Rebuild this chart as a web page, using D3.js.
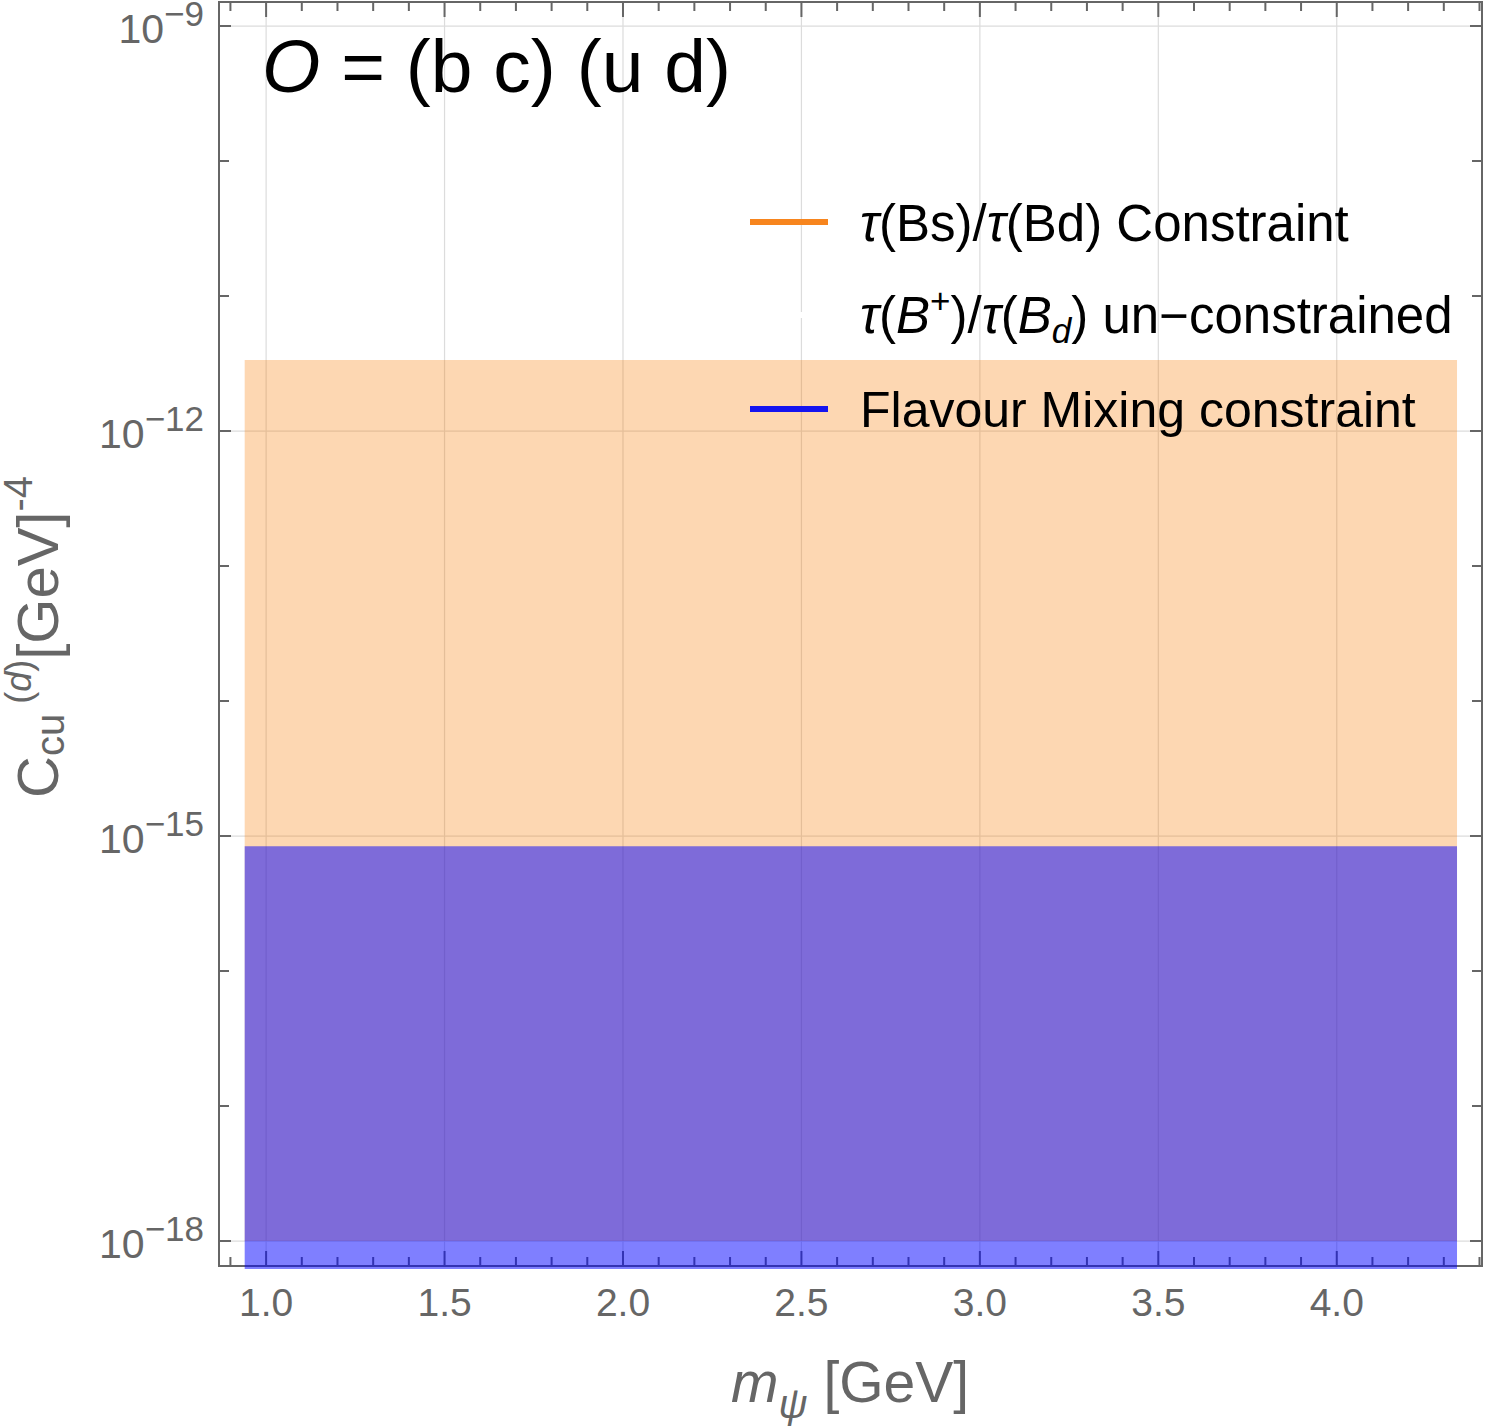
<!DOCTYPE html>
<html>
<head>
<meta charset="utf-8">
<script src="https://cdn.jsdelivr.net/npm/d3@7/dist/d3.min.js"></script>
<style>
  body { margin: 0; background: #fff; }
  text { font-family: 'Liberation Sans', Arial, sans-serif; }
</style>
</head>
<body>
<div id="chart"></div>
<script>
// m_psi extent of the bands [GeV]
const massRange = [0.94, 4.337]
// tau(Bs)/tau(Bd) allowed band
const tauLower = [1e-18, 1e-18]
const tauUpper = [3.36e-12, 3.36e-12]
// flavour mixing allowed band
const mixLower = [1e-19, 1e-19]
const mixUpper = [8.4e-16, 8.4e-16]

const xTicks = [1.0, 1.5, 2.0, 2.5, 3.0, 3.5, 4.0]
const yLabelExps = [-9, -12, -15, -18]
const yDecades = [-18, -17, -16, -15, -14, -13, -12, -11, -10, -9]
const legendColors = ['#f7851e', '#ffffff', '#1414f0']

const width = 1500
const height = 1426
const frame = { left: 219, right: 1482, top: 2, bottom: 1266 }
const grey = '#666'

const svg = d3.select('#chart')
  .append('svg')
  .attr('width', width)
  .attr('height', height)

const x = d3.scaleLinear()
  .domain([0.868, 4.407])
  .range([frame.left, frame.right])
const y = d3.scaleLog()
  .domain([Math.pow(10, -18.185), Math.pow(10, -8.822)])
  .range([frame.bottom, frame.top])

// grid
const grid = svg.append('g').attr('stroke', '#dcdcdc').attr('stroke-width', 1.2)
grid.selectAll('.gx').data(xTicks).enter().append('line')
  .attr('x1', d => x(d)).attr('x2', d => x(d))
  .attr('y1', frame.top).attr('y2', frame.bottom)
grid.selectAll('.gy').data(yLabelExps).enter().append('line')
  .attr('x1', frame.left).attr('x2', frame.right)
  .attr('y1', d => y(Math.pow(10, d))).attr('y2', d => y(Math.pow(10, d)))

// frame and ticks
const axes = svg.append('g').attr('stroke', grey).attr('stroke-width', 2)
axes.append('rect')
  .attr('x', frame.left).attr('y', frame.top)
  .attr('width', frame.right - frame.left)
  .attr('height', frame.bottom - frame.top)
  .attr('fill', 'none')

const minorX = d3.range(9, 45).map(d => d / 10).filter(d => d % 0.5 > 0.01 && d % 0.5 < 0.49)
axes.selectAll('.mx').data(minorX).enter().append('path')
  .attr('d', d => `M${x(d)},${frame.bottom}v-9M${x(d)},${frame.top}v9`)
axes.selectAll('.Mx').data(xTicks).enter().append('path')
  .attr('d', d => `M${x(d)},${frame.bottom}v-15M${x(d)},${frame.top}v15`)
axes.selectAll('.ty').data(yDecades).enter().append('path')
  .attr('d', d => {
    const len = yLabelExps.includes(d) ? 12 : 10
    const yy = y(Math.pow(10, d))
    return `M${frame.left},${yy}h${len}M${frame.right},${yy}h${-len}`
  })

// tick labels
svg.append('g').selectAll('text').data(xTicks).enter().append('text')
  .attr('x', d => x(d))
  .attr('y', 1316)
  .attr('text-anchor', 'middle')
  .attr('font-size', 39)
  .attr('fill', grey)
  .text(d => d3.format('.1f')(d))

const yLab = svg.append('g').selectAll('text').data(yLabelExps).enter().append('text')
  .attr('x', 204)
  .attr('y', d => y(Math.pow(10, d)) + 17)
  .attr('text-anchor', 'end')
  .attr('font-size', 41)
  .attr('fill', grey)
yLab.append('tspan').text('10')
yLab.append('tspan').attr('dy', -17).attr('font-size', 35).text(d => '\u2212' + Math.abs(d))

// bands
svg.append('clipPath').attr('id', 'clip')
  .append('rect')
  .attr('x', frame.left).attr('y', frame.top)
  .attr('width', frame.right - frame.left)
  .attr('height', frame.bottom - frame.top + 3)

const band = (lo, hi) => d3.area()
  .x((d, i) => x(massRange[i]))
  .y0((d, i) => y(lo[i]))
  .y1((d, i) => y(hi[i]))(massRange)

const bands = svg.append('g').attr('clip-path', 'url(#clip)')
bands.append('path')
  .attr('d', band(tauLower, tauUpper))
  .attr('fill', 'rgb(248,122,0)')
  .attr('fill-opacity', 0.3)
bands.append('path')
  .attr('d', band(mixLower, mixUpper))
  .attr('fill', 'rgb(0,0,255)')
  .attr('fill-opacity', 0.5)

// legend
const legendY = [222, 315, 409]
const legend = svg.append('g')
legend.selectAll('line').data(legendColors).enter().append('line')
  .attr('x1', 750).attr('x2', 828)
  .attr('y1', (d, i) => legendY[i]).attr('y2', (d, i) => legendY[i])
  .attr('stroke', d => d)
  .attr('stroke-width', 6)

const l1 = legend.append('text').attr('x', 860).attr('y', 241).attr('font-size', 51)
l1.append('tspan').attr('font-style', 'italic').text('τ')
l1.append('tspan').text('(Bs)/')
l1.append('tspan').attr('font-style', 'italic').text('τ')
l1.append('tspan').text('(Bd) Constraint')

const l2 = legend.append('text').attr('x', 860).attr('y', 333).attr('font-size', 51)
l2.append('tspan').attr('font-style', 'italic').text('τ')
l2.append('tspan').text('(')
l2.append('tspan').attr('font-style', 'italic').text('B')
l2.append('tspan').attr('dy', -20).attr('font-size', 35).text('+')
l2.append('tspan').attr('dy', 20).text(')/')
l2.append('tspan').attr('font-style', 'italic').text('τ')
l2.append('tspan').text('(')
l2.append('tspan').attr('font-style', 'italic').text('B')
l2.append('tspan').attr('dy', 10).attr('font-size', 35).attr('font-style', 'italic').text('d')
l2.append('tspan').attr('dy', -10).text(') un\u2212constrained')

legend.append('text').attr('x', 860).attr('y', 427).attr('font-size', 50)
  .text('Flavour Mixing constraint')

// title
const title = svg.append('text').attr('x', 262).attr('y', 92).attr('font-size', 75)
title.append('tspan').attr('font-style', 'italic').text('O')
title.append('tspan').text(' = (b c) (u d)')

// x label
const xl = svg.append('text').attr('x', 731).attr('y', 1402).attr('font-size', 57).attr('fill', grey)
xl.append('tspan').attr('font-style', 'italic').text('m')
xl.append('tspan').attr('dy', 16).attr('font-size', 40).attr('font-style', 'italic').text('ψ')
xl.append('tspan').attr('dy', -16).text(' [GeV]')

// y label
const yl = svg.append('text')
  .attr('transform', 'translate(58,798) rotate(-90)')
  .attr('font-size', 58)
  .attr('fill', grey)
yl.append('tspan').text('C')
yl.append('tspan').attr('dy', 6).attr('font-size', 40).text('cu')
yl.append('tspan').attr('dy', -33).attr('font-size', 36).text(' (')
yl.append('tspan').attr('font-size', 36).attr('font-style', 'italic').text('d')
yl.append('tspan').attr('font-size', 36).text(')')
yl.append('tspan').attr('dy', 27).text('[GeV]')
yl.append('tspan').attr('dy', -26).attr('font-size', 40).text('-4')
</script>
</body>
</html>
